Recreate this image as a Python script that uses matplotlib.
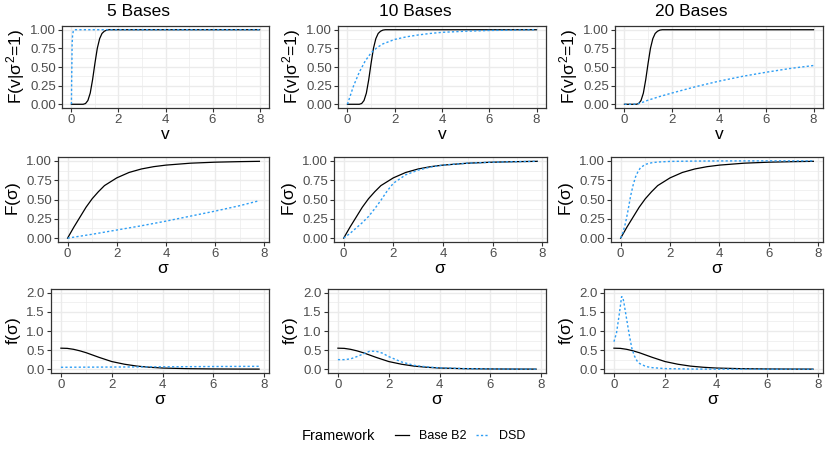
import matplotlib
matplotlib.use("Agg")
import matplotlib.pyplot as plt
from matplotlib.ticker import MultipleLocator, FixedLocator
from matplotlib.lines import Line2D
from matplotlib.offsetbox import HPacker

plt.rcParams['font.family'] = ['Liberation Sans', 'DejaVu Sans']
plt.rcParams['mathtext.fontset'] = 'custom'
plt.rcParams['mathtext.rm'] = 'Liberation Sans'
plt.rcParams['mathtext.it'] = 'Liberation Sans'

# ---------------- data ----------------
titles = ["5 Bases", "10 Bases", "20 Bases"]
series_names = ["Base B2", "DSD"]

# Row 1: F(v | sigma^2 = 1)
v_b2 = [0, 0.5, 0.6, 0.7, 0.8, 0.9, 1.0, 1.1, 1.2, 1.3, 1.4, 1.5, 1.6, 2, 4, 6, 8]
F_v_b2 = [0, 0, 0.01, 0.05, 0.15, 0.33, 0.55, 0.75, 0.88, 0.95, 0.98, 0.995, 1.0, 1.0, 1.0, 1.0, 1.0]

v_dsd5 = [0, 0.01, 0.03, 0.05, 0.08, 0.12, 0.2, 1, 2, 4, 6, 8]
F_v_dsd5 = [0, 0.3, 0.8, 0.93, 0.98, 1.0, 1.0, 1.0, 1.0, 1.0, 1.0, 1.0]

v_dsd10 = [0, 0.25, 0.5, 0.75, 1.0, 1.25, 1.5, 2.0, 2.5, 3.0, 3.5, 4.0, 5.0, 6.0, 7.0, 8.0]
F_v_dsd10 = [0, 0.24, 0.43, 0.58, 0.69, 0.76, 0.81, 0.87, 0.905, 0.93, 0.95, 0.965, 0.98, 0.99, 0.995, 1.0]

v_dsd20 = [0, 0.4, 0.5, 0.6, 0.7, 0.8, 1.0, 1.5, 2.0, 3.0, 4.0, 5.0, 6.0, 7.0, 8.0]
F_v_dsd20 = [0, 0, 0.005, 0.01, 0.02, 0.03, 0.055, 0.105, 0.15, 0.235, 0.31, 0.375, 0.43, 0.48, 0.52]

# Row 2: F(sigma)
s_b2 = [0, 0.25, 0.5, 0.75, 1.0, 1.25, 1.5, 2.0, 2.5, 3.0, 3.5, 4.0, 5.0, 6.0, 7.0, 7.8]
F_s_b2 = [0, 0.14, 0.27, 0.4, 0.51, 0.6, 0.68, 0.78, 0.85, 0.895, 0.925, 0.945, 0.97, 0.983, 0.99, 0.994]

s_dsd5 = [0, 1, 2, 3, 4, 5, 6, 7, 7.8]
F_s_dsd5 = [0, 0.05, 0.105, 0.16, 0.22, 0.285, 0.35, 0.42, 0.485]

s_dsd10 = [0, 0.25, 0.5, 0.75, 1.0, 1.25, 1.5, 1.75, 2.0, 2.5, 3.0, 3.5, 4.0, 5.0, 6.0, 7.0, 7.8]
F_s_dsd10 = [0, 0.06, 0.13, 0.2, 0.28, 0.38, 0.49, 0.61, 0.71, 0.82, 0.88, 0.92, 0.945, 0.97, 0.983, 0.99, 0.994]

s_dsd20 = [0, 0.1, 0.2, 0.3, 0.4, 0.5, 0.6, 0.7, 0.8, 1.0, 1.25, 1.5, 2.0, 3.0, 4.0, 6.0, 7.8]
F_s_dsd20 = [0, 0.08, 0.2, 0.36, 0.54, 0.68, 0.79, 0.86, 0.91, 0.955, 0.975, 0.985, 0.993, 0.997, 0.999, 1.0, 1.0]

# Row 3: f(sigma)
fs_b2 = [0.55, 0.545, 0.52, 0.48, 0.43, 0.37, 0.31, 0.2, 0.13, 0.08, 0.05, 0.03, 0.013, 0.006, 0.003, 0.002]

f_s_dsd5 = [0.05, 0.053, 0.056, 0.059, 0.062, 0.066, 0.07, 0.073, 0.075]

s_dsd10_pdf = [0, 0.25, 0.5, 0.75, 1.0, 1.25, 1.5, 1.75, 2.0, 2.5, 3.0, 3.5, 4.0, 5.0, 6.0, 7.0, 7.8]
f_s_dsd10 = [0.25, 0.25, 0.27, 0.33, 0.40, 0.47, 0.47, 0.42, 0.33, 0.19, 0.10, 0.06, 0.035, 0.015, 0.007, 0.003, 0.002]

s_dsd20_pdf = [0, 0.1, 0.2, 0.3, 0.35, 0.4, 0.5, 0.6, 0.7, 0.8, 0.9, 1.0, 1.25, 1.5, 2.0, 3.0, 4.0, 7.8]
f_s_dsd20 = [0.72, 0.95, 1.4, 1.9, 1.88, 1.7, 1.3, 0.9, 0.55, 0.35, 0.22, 0.15, 0.07, 0.04, 0.015, 0.004, 0.001, 0.0]

row1_dsd = [(v_dsd5, F_v_dsd5), (v_dsd10, F_v_dsd10), (v_dsd20, F_v_dsd20)]
row2_dsd = [(s_dsd5, F_s_dsd5), (s_dsd10, F_s_dsd10), (s_dsd20, F_s_dsd20)]
row3_dsd = [(s_dsd5, f_s_dsd5), (s_dsd10_pdf, f_s_dsd10), (s_dsd20_pdf, f_s_dsd20)]

# ---------------- layout ----------------
W, H = 830, 459
fig = plt.figure(figsize=(W / 100, H / 100), dpi=100)

rows_px = [(26, 108), (157, 242), (289, 373)]
cols_px = [
    [(62, 269), (338, 546), (615, 823)],
    [(58, 269), (334, 547), (611, 823)],
    [(51, 269), (328, 546), (604, 823)],
]

BLACK = "#000000"
BLUE = "#2E9EF4"
GRID = "#EBEBEB"
BORDER = "#333333"
TICKTXT = "#4D4D4D"
dotted = (0, (1.6, 1.6))

ylabels = [r"F(v|$\sigma^2$=1)", r"F($\sigma$)", r"f($\sigma$)"]
xlabels = ["v", r"$\sigma$", r"$\sigma$"]


def style_axis(ax, row):
    for sp in ax.spines.values():
        sp.set_color(BORDER)
        sp.set_linewidth(0.9)
    ax.set_axisbelow(True)
    ax.xaxis.set_major_locator(MultipleLocator(2))
    ax.xaxis.set_minor_locator(MultipleLocator(1))
    if row < 2:
        ax.set_ylim(-0.05, 1.05)
        ax.yaxis.set_major_locator(FixedLocator([0, 0.25, 0.5, 0.75, 1.0]))
        ax.yaxis.set_minor_locator(FixedLocator([0.125, 0.375, 0.625, 0.875]))
        ax.set_yticklabels(["0.00", "0.25", "0.50", "0.75", "1.00"])
    else:
        ax.set_ylim(-0.1, 2.1)
        ax.yaxis.set_major_locator(FixedLocator([0, 0.5, 1.0, 1.5, 2.0]))
        ax.yaxis.set_minor_locator(FixedLocator([0.25, 0.75, 1.25, 1.75]))
        ax.set_yticklabels(["0.0", "0.5", "1.0", "1.5", "2.0"])
    if row == 0:
        ax.set_xlim(-0.4, 8.4)
    else:
        ax.set_xlim(-0.39, 8.19)
    ax.grid(which="major", color=GRID, linewidth=1.0)
    ax.grid(which="minor", color=GRID, linewidth=0.5)
    ax.tick_params(which="major", length=3, width=0.8, color=BORDER,
                   labelsize=9.5, labelcolor=TICKTXT, pad=1.5)
    ax.tick_params(which="minor", length=0)


for r in range(3):
    top, bot = rows_px[r]
    for c in range(3):
        x0, x1 = cols_px[r][c]
        ax = fig.add_axes([x0 / W, 1 - bot / H, (x1 - x0) / W, (bot - top) / H])
        style_axis(ax, r)
        if r == 0:
            ax.plot(v_b2, F_v_b2, color=BLACK, lw=0.9)
            dx, dy = row1_dsd[c]
        elif r == 1:
            ax.plot(s_b2, F_s_b2, color=BLACK, lw=0.9)
            dx, dy = row2_dsd[c]
        else:
            ax.plot(s_b2, fs_b2, color=BLACK, lw=0.9)
            dx, dy = row3_dsd[c]
        ax.plot(dx, dy, color=BLUE, lw=1.0, linestyle=dotted)
        ax.set_ylabel(ylabels[r], fontsize=12.5, labelpad=2)
        ax.set_xlabel(xlabels[r], fontsize=12.5, labelpad=0.5)

# column titles, centred over each third of the figure
for c in range(3):
    fig.text((c + 0.5) / 3, 1 - 11.5 / H, titles[c], fontsize=12.5,
             ha="center", va="center")

# ---------------- legend ----------------
handles = [Line2D([], [], color=BLACK, lw=0.9),
           Line2D([], [], color=BLUE, lw=1.0, linestyle=dotted)]
leg = fig.legend(handles, series_names, loc="center", bbox_to_anchor=(414 / W, 1 - 436 / H),
                 ncol=2, frameon=False, fontsize=9, title="Framework",
                 title_fontsize=10.5, handlelength=1.1, columnspacing=0.75,
                 handletextpad=0.8)
leg._legend_box._children = [HPacker(children=list(leg._legend_box.get_children()),
                                     align="center", pad=0, sep=14)]

fig.savefig("out.png", dpi=100)
